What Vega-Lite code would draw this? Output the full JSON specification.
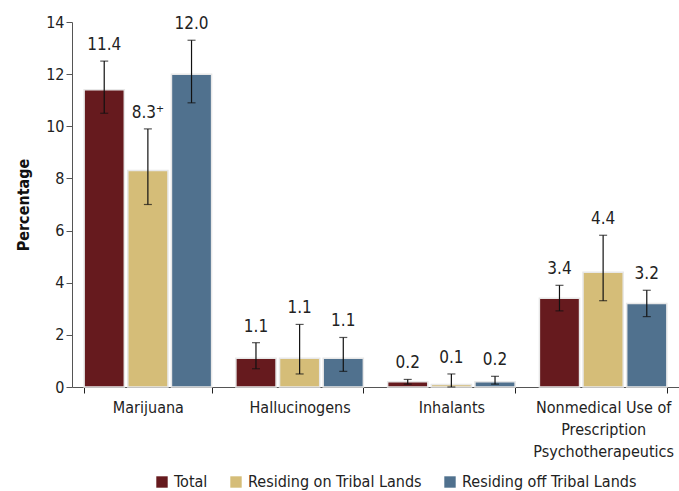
{
  "$schema": "https://vega.github.io/schema/vega-lite/v6.json",
  "autosize": {"type": "none"},
  "width": 607,
  "height": 365,
  "padding": {"left": 72, "top": 22, "right": 0, "bottom": 104},
  "background": "white",
  "config": {
    "font": "Liberation Sans Narrow, DejaVu Sans Condensed, sans-serif",
    "view": {"stroke": null}
  },
  "data": {
    "values": [
      {"cat": "Marijuana", "group": "Total", "value": 11.4, "lo": 10.5, "hi": 12.5, "label": "11.4"},
      {"cat": "Marijuana", "group": "Residing on Tribal Lands", "value": 8.3, "lo": 7.0, "hi": 9.9, "label": "8.3⁺"},
      {"cat": "Marijuana", "group": "Residing off Tribal Lands", "value": 12.0, "lo": 10.9, "hi": 13.3, "label": "12.0"},
      {"cat": "Hallucinogens", "group": "Total", "value": 1.1, "lo": 0.7, "hi": 1.7, "label": "1.1"},
      {"cat": "Hallucinogens", "group": "Residing on Tribal Lands", "value": 1.1, "lo": 0.5, "hi": 2.4, "label": "1.1"},
      {"cat": "Hallucinogens", "group": "Residing off Tribal Lands", "value": 1.1, "lo": 0.6, "hi": 1.9, "label": "1.1"},
      {"cat": "Inhalants", "group": "Total", "value": 0.2, "lo": 0.11, "hi": 0.29, "label": "0.2"},
      {"cat": "Inhalants", "group": "Residing on Tribal Lands", "value": 0.1, "lo": 0.0, "hi": 0.5, "label": "0.1"},
      {"cat": "Inhalants", "group": "Residing off Tribal Lands", "value": 0.2, "lo": 0.11, "hi": 0.41, "label": "0.2"},
      {"cat": "Nonmedical Use of\nPrescription\nPsychotherapeutics", "group": "Total", "value": 3.4, "lo": 2.92, "hi": 3.9, "label": "3.4"},
      {"cat": "Nonmedical Use of\nPrescription\nPsychotherapeutics", "group": "Residing on Tribal Lands", "value": 4.4, "lo": 3.31, "hi": 5.82, "label": "4.4"},
      {"cat": "Nonmedical Use of\nPrescription\nPsychotherapeutics", "group": "Residing off Tribal Lands", "value": 3.2, "lo": 2.7, "hi": 3.71, "label": "3.2"}
    ]
  },
  "encoding": {
    "x": {
      "field": "cat", "type": "nominal", "sort": null,
      "scale": {"paddingInner": 0.16, "paddingOuter": 0.08},
      "axis": {
        "title": null, "labelAngle": 0, "labelFontSize": 16, "labelColor": "#222",
        "labelExpr": "split(datum.label, '\\n')", "labelLineHeight": 22,
        "domainColor": "#555", "tickColor": "#222", "tickBand": "extent", "tickSize": 6,
        "labelPadding": 6
      }
    },
    "xOffset": {"field": "group", "type": "nominal", "sort": ["Total", "Residing on Tribal Lands", "Residing off Tribal Lands"], "scale": {"paddingInner": 0.08}}
  },
  "layer": [
    {
      "mark": {"type": "bar", "stroke": "#e8e8e8", "strokeWidth": 1.5},
      "encoding": {
        "y": {
          "field": "value", "type": "quantitative",
          "scale": {"domain": [0, 14]},
          "axis": {
            "title": "Percentage", "titleFontSize": 16, "titleFontWeight": "bold", "titleColor": "#111", "titlePadding": 14,
            "values": [0, 2, 4, 6, 8, 10, 12, 14], "grid": false,
            "labelFontSize": 16, "labelColor": "#222", "domainColor": "#555", "tickColor": "#555", "tickSize": 6
          }
        },
        "color": {
          "field": "group", "type": "nominal",
          "sort": ["Total", "Residing on Tribal Lands", "Residing off Tribal Lands"],
          "scale": {"domain": ["Total", "Residing on Tribal Lands", "Residing off Tribal Lands"], "range": ["#661a1e", "#d5bd78", "#50718e"]},
          "legend": {
            "title": null, "orient": "none", "legendX": 82, "legendY": 452, "direction": "horizontal",
            "symbolType": "square", "symbolSize": 130, "symbolStrokeWidth": 0, "labelFontSize": 16, "labelColor": "#222",
            "columnPadding": 20, "labelOffset": 4, "labelLimit": 0
          }
        }
      }
    },
    {
      "mark": {"type": "rule", "color": "#111", "strokeWidth": 1.2},
      "encoding": {"y": {"field": "lo", "type": "quantitative"}, "y2": {"field": "hi"}}
    },
    {
      "mark": {"type": "tick", "color": "#111", "orient": "horizontal", "size": 8, "thickness": 1.2},
      "encoding": {"y": {"field": "lo", "type": "quantitative"}}
    },
    {
      "mark": {"type": "tick", "color": "#111", "orient": "horizontal", "size": 8, "thickness": 1.2},
      "encoding": {"y": {"field": "hi", "type": "quantitative"}}
    },
    {
      "mark": {"type": "text", "baseline": "bottom", "dy": -7, "fontSize": 17, "color": "#222"},
      "encoding": {"y": {"field": "hi", "type": "quantitative"}, "text": {"field": "label"}}
    }
  ]
}
